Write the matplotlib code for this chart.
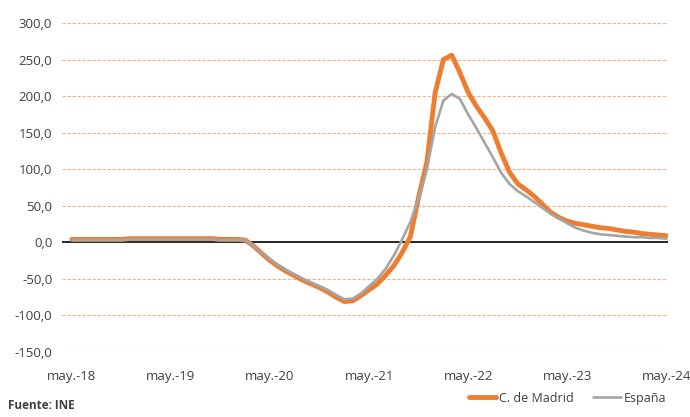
import numpy as np
import matplotlib.pyplot as plt

# Monthly series, May 2018 -> May 2024 (73 months)
madrid = [4, 4, 4, 4, 4, 4, 4, 5, 5, 5, 5, 5, 5, 5, 5, 5, 5, 5, 4, 4, 4, 3,
          -5, -15, -25, -33, -40, -46, -52, -57, -62, -68, -75, -81, -80, -73,
          -65, -57, -45, -32, -14, 8, 62, 110, 205, 250, 256, 232, 205, 186,
          170, 152, 122, 96, 80, 72, 63, 52, 41, 34, 29, 26, 24, 22, 20, 19,
          17, 15, 14, 12, 11, 10, 9]
espana = [3, 3, 3, 3, 3, 3, 3, 4, 4, 4, 4, 4, 4, 4, 4, 4, 4, 4, 3, 3, 3, 3,
          -5, -14, -23, -31, -38, -44, -50, -55, -60, -65, -72, -78, -77, -70,
          -60, -50, -36, -18, 4, 28, 60, 100, 158, 194, 203, 196, 175, 156,
          136, 116, 95, 80, 70, 63, 55, 47, 39, 33, 26, 20, 16, 13, 11, 10,
          9, 8, 7, 7, 6, 6, 5]
tick_labels = ["may.-18", "may.-19", "may.-20", "may.-21", "may.-22", "may.-23", "may.-24"]
months = np.arange(len(madrid))

plt.rcParams['font.family'] = ['Open Sans', 'DejaVu Sans']

fig = plt.figure(figsize=(6.9, 4.17), dpi=100)
ax = fig.add_axes([62 / 690, 1 - 352 / 417, (668 - 62) / 690, (352 - 23) / 417])

ax.plot(months, madrid, color="#ED7D31", lw=3.5, label="C. de Madrid",
        solid_capstyle="round", solid_joinstyle="round")
ax.plot(months, espana, color="#A5A5A5", lw=1.9, label="España",
        solid_capstyle="round", solid_joinstyle="round")
ax.axhline(0, color="black", lw=1.2, zorder=1)

ax.set_ylim(-150, 300)
ax.set_xlim(-1.2, 72.2)
yt = np.arange(-150, 301, 50)
ax.set_yticks(yt)
ax.set_yticklabels([f"{v:.1f}".replace(".", ",") for v in yt], fontsize=9.5, color="#404040")
ax.set_xticks(np.arange(0, 73, 12))
ax.set_xticklabels(tick_labels, fontsize=9.5, color="#404040")
ax.tick_params(length=0)
ax.tick_params(axis="y", pad=7)
ax.tick_params(axis="x", pad=13)
for v in yt:
    if v != 0:
        ax.axhline(v, color="#F4B183", lw=0.8, ls=(0, (3, 1.5)), zorder=0)
for s in ax.spines.values():
    s.set_visible(False)

fig.legend(loc="center", bbox_to_anchor=(0.822, 0.045), ncol=2, frameon=False,
           fontsize=9, handlelength=2.2, columnspacing=1.6, handletextpad=0.2,
           labelcolor="#404040")

fig.text(0.012, 0.018, "Fuente: INE", fontsize=8.5, fontweight="bold", color="#404040")
# title sits mostly above the visible area, as in the source image
fig.text(0.465, 1.006, "(Tasa de variación interanual en %)", fontsize=11,
         ha="center", va="baseline", color="#404040")

fig.savefig("out.png", dpi=100)
